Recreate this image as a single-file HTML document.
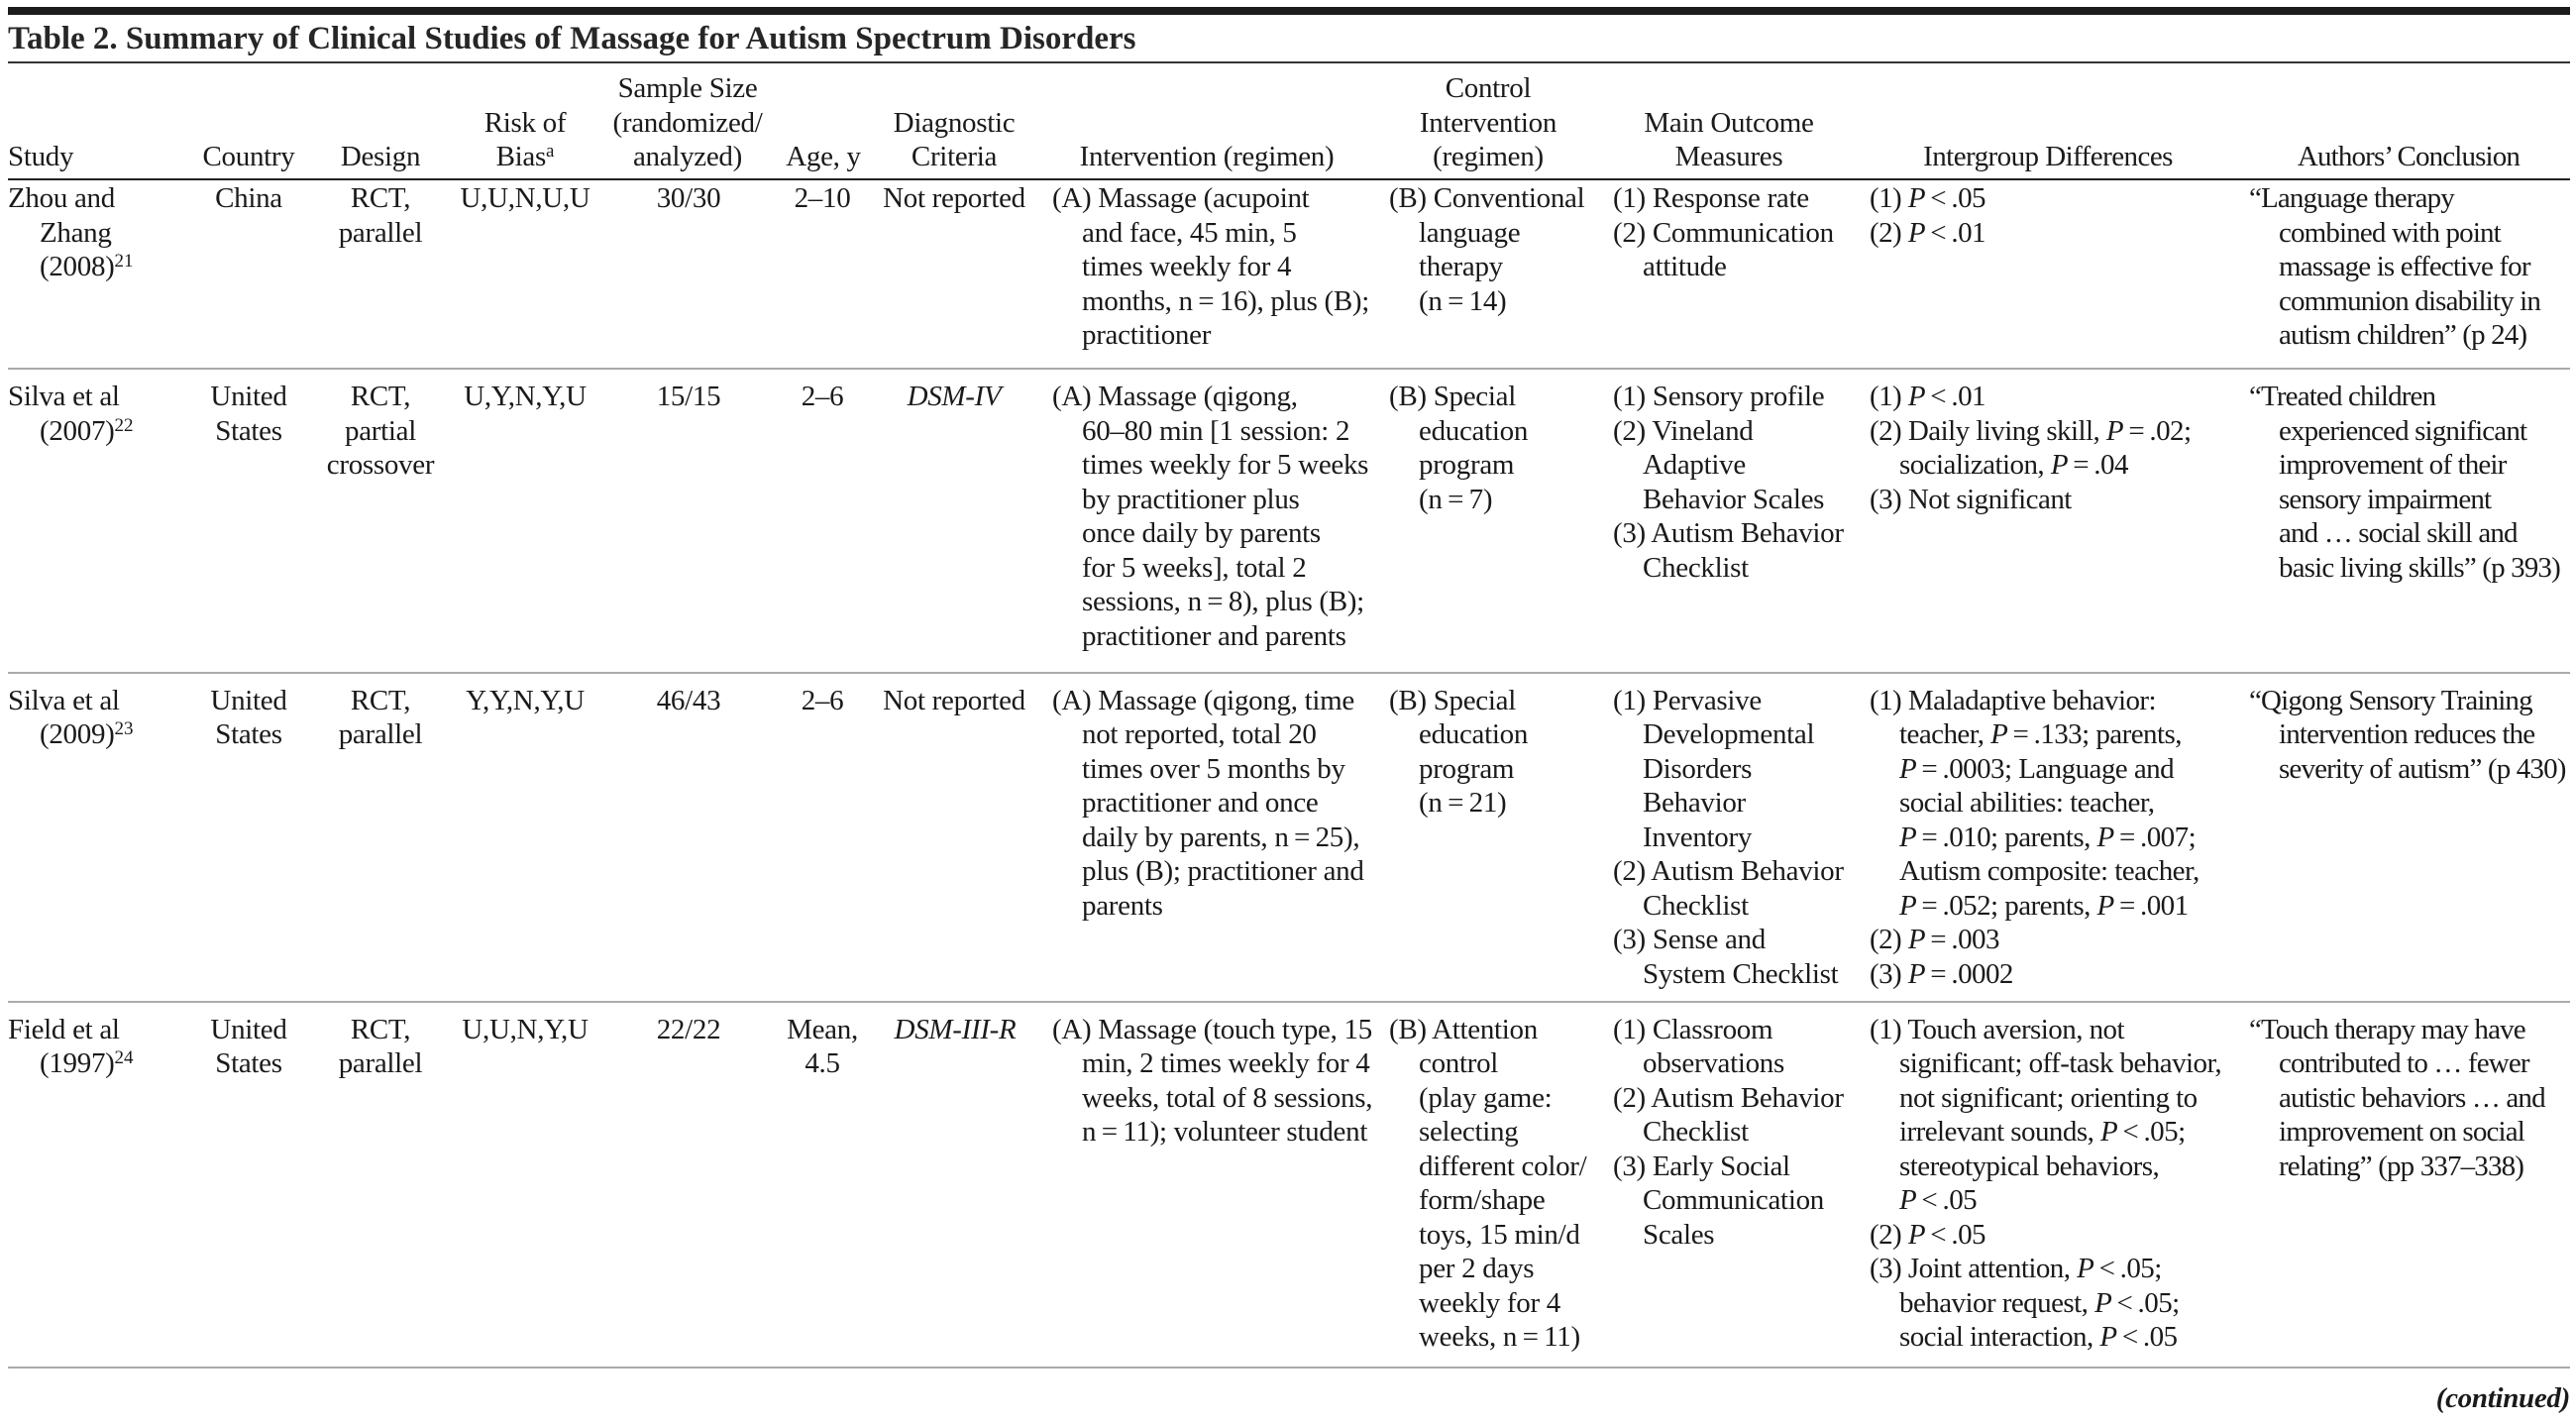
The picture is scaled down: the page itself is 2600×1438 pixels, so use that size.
<!DOCTYPE html>
<html>
<head>
<meta charset="utf-8">
<style>
  html, body { margin:0; padding:0; }
  body {
    width:2600px; height:1438px; position:relative; overflow:hidden;
    background:#ffffff; color:#1a1a1a;
    font-family:"Liberation Serif", "DejaVu Serif", serif;
    font-size:29px; letter-spacing:-0.3px;
  }
  .r { position:absolute; left:8px; width:2586px; }
  .c { position:absolute; line-height:34.5px; white-space:nowrap; }
  .c div { height:34.5px; }
  .m { width:300px; text-align:center; }
  .i1 { padding-left:32px; }
  .i { padding-left:30px; }
  .ig { letter-spacing:-0.55px; }
  .ac { letter-spacing:-0.85px; }
  sup { font-size:19px; line-height:0; vertical-align:9px; letter-spacing:0; }
  .title { position:absolute; left:8px; top:19px; font-size:33px; font-weight:bold; line-height:40px; letter-spacing:0; white-space:nowrap; color:#262626; }
  .cont { position:absolute; right:6px; top:1394px; font-weight:bold; font-style:italic; line-height:34.5px; white-space:nowrap; }
</style>
</head>
<body>

<!-- rules -->
<div class="r" style="top:7px;height:8px;background:#1c1c1c;"></div>
<div class="title">Table 2. Summary of Clinical Studies of Massage for Autism Spectrum Disorders</div>
<div class="r" style="top:62px;height:2px;background:#333;"></div>
<div class="r" style="top:180px;height:2px;background:#222;"></div>
<div class="r" style="top:371px;height:2px;background:#ababab;"></div>
<div class="r" style="top:678px;height:2px;background:#ababab;"></div>
<div class="r" style="top:1010px;height:2px;background:#ababab;"></div>
<div class="r" style="top:1379px;height:2px;background:#ababab;"></div>

<!-- header -->
<div class="c" style="left:8px;top:141px;"><div>Study</div></div>
<div class="c m" style="left:101px;top:141px;"><div>Country</div></div>
<div class="c m" style="left:234px;top:141px;"><div>Design</div></div>
<div class="c m" style="left:380px;top:106.5px;"><div>Risk of</div><div>Bias<sup>a</sup></div></div>
<div class="c m" style="left:544px;top:72px;"><div>Sample Size</div><div>(randomized/</div><div>analyzed)</div></div>
<div class="c m" style="left:681px;top:141px;"><div>Age, y</div></div>
<div class="c m" style="left:813px;top:106.5px;"><div>Diagnostic</div><div>Criteria</div></div>
<div class="c m" style="left:1068px;top:141px;"><div>Intervention (regimen)</div></div>
<div class="c m" style="left:1352px;top:72px;"><div>Control</div><div>Intervention</div><div>(regimen)</div></div>
<div class="c m" style="left:1595px;top:106.5px;"><div>Main Outcome</div><div>Measures</div></div>
<div class="c m ig" style="left:1917px;top:141px;"><div>Intergroup Differences</div></div>
<div class="c m ac" style="left:2281px;top:141px;"><div>Authors’ Conclusion</div></div>

<!-- Row 1 -->
<div class="c" style="left:8px;top:183px;"><div>Zhou and</div><div class="i1">Zhang</div><div class="i1">(2008)<sup>21</sup></div></div>
<div class="c m" style="left:101px;top:183px;"><div>China</div></div>
<div class="c m" style="left:234px;top:183px;"><div>RCT,</div><div>parallel</div></div>
<div class="c m" style="left:380px;top:183px;"><div>U,U,N,U,U</div></div>
<div class="c m" style="left:545px;top:183px;"><div>30/30</div></div>
<div class="c m" style="left:680px;top:183px;"><div>2–10</div></div>
<div class="c m" style="left:813px;top:183px;"><div>Not reported</div></div>
<div class="c" style="left:1062px;top:183px;">
  <div>(A) Massage (acupoint</div>
  <div class="i">and face, 45 min, 5</div>
  <div class="i">times weekly for 4</div>
  <div class="i">months, n&#8201;=&#8201;16), plus (B);</div>
  <div class="i">practitioner</div>
</div>
<div class="c" style="left:1402px;top:183px;">
  <div>(B) Conventional</div>
  <div class="i">language</div>
  <div class="i">therapy</div>
  <div class="i">(n&#8201;=&#8201;14)</div>
</div>
<div class="c" style="left:1628px;top:183px;">
  <div>(1) Response rate</div>
  <div>(2) Communication</div>
  <div class="i">attitude</div>
</div>
<div class="c ig" style="left:1887px;top:183px;">
  <div>(1) <i>P</i>&#8201;&lt;&#8201;.05</div>
  <div>(2) <i>P</i>&#8201;&lt;&#8201;.01</div>
</div>
<div class="c ac" style="left:2270px;top:183px;">
  <div>“Language therapy</div>
  <div class="i">combined with point</div>
  <div class="i">massage is effective for</div>
  <div class="i">communion disability in</div>
  <div class="i">autism children” (p 24)</div>
</div>

<!-- Row 2 -->
<div class="c" style="left:8px;top:383px;"><div>Silva et al</div><div class="i1">(2007)<sup>22</sup></div></div>
<div class="c m" style="left:101px;top:383px;"><div>United</div><div>States</div></div>
<div class="c m" style="left:234px;top:383px;"><div>RCT,</div><div>partial</div><div>crossover</div></div>
<div class="c m" style="left:380px;top:383px;"><div>U,Y,N,Y,U</div></div>
<div class="c m" style="left:545px;top:383px;"><div>15/15</div></div>
<div class="c m" style="left:680px;top:383px;"><div>2–6</div></div>
<div class="c m" style="left:813px;top:383px;"><div><i>DSM-IV</i></div></div>
<div class="c" style="left:1062px;top:383px;">
  <div>(A) Massage (qigong,</div>
  <div class="i">60–80 min [1 session: 2</div>
  <div class="i">times weekly for 5 weeks</div>
  <div class="i">by practitioner plus</div>
  <div class="i">once daily by parents</div>
  <div class="i">for 5 weeks], total 2</div>
  <div class="i">sessions, n&#8201;=&#8201;8), plus (B);</div>
  <div class="i">practitioner and parents</div>
</div>
<div class="c" style="left:1402px;top:383px;">
  <div>(B) Special</div>
  <div class="i">education</div>
  <div class="i">program</div>
  <div class="i">(n&#8201;=&#8201;7)</div>
</div>
<div class="c" style="left:1628px;top:383px;">
  <div>(1) Sensory profile</div>
  <div>(2) Vineland</div>
  <div class="i">Adaptive</div>
  <div class="i">Behavior Scales</div>
  <div>(3) Autism Behavior</div>
  <div class="i">Checklist</div>
</div>
<div class="c ig" style="left:1887px;top:383px;">
  <div>(1) <i>P</i>&#8201;&lt;&#8201;.01</div>
  <div>(2) Daily living skill, <i>P</i>&#8201;=&#8201;.02;</div>
  <div class="i">socialization, <i>P</i>&#8201;=&#8201;.04</div>
  <div>(3) Not significant</div>
</div>
<div class="c ac" style="left:2270px;top:383px;">
  <div>“Treated children</div>
  <div class="i">experienced significant</div>
  <div class="i">improvement of their</div>
  <div class="i">sensory impairment</div>
  <div class="i">and … social skill and</div>
  <div class="i">basic living skills” (p 393)</div>
</div>

<!-- Row 3 -->
<div class="c" style="left:8px;top:689.5px;"><div>Silva et al</div><div class="i1">(2009)<sup>23</sup></div></div>
<div class="c m" style="left:101px;top:689.5px;"><div>United</div><div>States</div></div>
<div class="c m" style="left:234px;top:689.5px;"><div>RCT,</div><div>parallel</div></div>
<div class="c m" style="left:380px;top:689.5px;"><div>Y,Y,N,Y,U</div></div>
<div class="c m" style="left:545px;top:689.5px;"><div>46/43</div></div>
<div class="c m" style="left:680px;top:689.5px;"><div>2–6</div></div>
<div class="c m" style="left:813px;top:689.5px;"><div>Not reported</div></div>
<div class="c" style="left:1062px;top:689.5px;">
  <div>(A) Massage (qigong, time</div>
  <div class="i">not reported, total 20</div>
  <div class="i">times over 5 months by</div>
  <div class="i">practitioner and once</div>
  <div class="i">daily by parents, n&#8201;=&#8201;25),</div>
  <div class="i">plus (B); practitioner and</div>
  <div class="i">parents</div>
</div>
<div class="c" style="left:1402px;top:689.5px;">
  <div>(B) Special</div>
  <div class="i">education</div>
  <div class="i">program</div>
  <div class="i">(n&#8201;=&#8201;21)</div>
</div>
<div class="c" style="left:1628px;top:689.5px;">
  <div>(1) Pervasive</div>
  <div class="i">Developmental</div>
  <div class="i">Disorders</div>
  <div class="i">Behavior</div>
  <div class="i">Inventory</div>
  <div>(2) Autism Behavior</div>
  <div class="i">Checklist</div>
  <div>(3) Sense and</div>
  <div class="i">System Checklist</div>
</div>
<div class="c ig" style="left:1887px;top:689.5px;">
  <div>(1) Maladaptive behavior:</div>
  <div class="i">teacher, <i>P</i>&#8201;=&#8201;.133; parents,</div>
  <div class="i"><i>P</i>&#8201;=&#8201;.0003; Language and</div>
  <div class="i">social abilities: teacher,</div>
  <div class="i"><i>P</i>&#8201;=&#8201;.010; parents, <i>P</i>&#8201;=&#8201;.007;</div>
  <div class="i">Autism composite: teacher,</div>
  <div class="i"><i>P</i>&#8201;=&#8201;.052; parents, <i>P</i>&#8201;=&#8201;.001</div>
  <div>(2) <i>P</i>&#8201;=&#8201;.003</div>
  <div>(3) <i>P</i>&#8201;=&#8201;.0002</div>
</div>
<div class="c ac" style="left:2270px;top:689.5px;">
  <div>“Qigong Sensory Training</div>
  <div class="i">intervention reduces the</div>
  <div class="i">severity of autism” (p 430)</div>
</div>

<!-- Row 4 -->
<div class="c" style="left:8px;top:1021.5px;"><div>Field et al</div><div class="i1">(1997)<sup>24</sup></div></div>
<div class="c m" style="left:101px;top:1021.5px;"><div>United</div><div>States</div></div>
<div class="c m" style="left:234px;top:1021.5px;"><div>RCT,</div><div>parallel</div></div>
<div class="c m" style="left:380px;top:1021.5px;"><div>U,U,N,Y,U</div></div>
<div class="c m" style="left:545px;top:1021.5px;"><div>22/22</div></div>
<div class="c m" style="left:680px;top:1021.5px;"><div>Mean,</div><div>4.5</div></div>
<div class="c m" style="left:814px;top:1021.5px;"><div><i>DSM-III-R</i></div></div>
<div class="c" style="left:1062px;top:1021.5px;">
  <div>(A) Massage (touch type, 15</div>
  <div class="i">min, 2 times weekly for 4</div>
  <div class="i">weeks, total of 8 sessions,</div>
  <div class="i">n&#8201;=&#8201;11); volunteer student</div>
</div>
<div class="c" style="left:1402px;top:1021.5px;">
  <div>(B) Attention</div>
  <div class="i">control</div>
  <div class="i">(play game:</div>
  <div class="i">selecting</div>
  <div class="i">different color/</div>
  <div class="i">form/shape</div>
  <div class="i">toys, 15 min/d</div>
  <div class="i">per 2 days</div>
  <div class="i">weekly for 4</div>
  <div class="i">weeks, n&#8201;=&#8201;11)</div>
</div>
<div class="c" style="left:1628px;top:1021.5px;">
  <div>(1) Classroom</div>
  <div class="i">observations</div>
  <div>(2) Autism Behavior</div>
  <div class="i">Checklist</div>
  <div>(3) Early Social</div>
  <div class="i">Communication</div>
  <div class="i">Scales</div>
</div>
<div class="c ig" style="left:1887px;top:1021.5px;">
  <div>(1) Touch aversion, not</div>
  <div class="i">significant; off-task behavior,</div>
  <div class="i">not significant; orienting to</div>
  <div class="i">irrelevant sounds, <i>P</i>&#8201;&lt;&#8201;.05;</div>
  <div class="i">stereotypical behaviors,</div>
  <div class="i"><i>P</i>&#8201;&lt;&#8201;.05</div>
  <div>(2) <i>P</i>&#8201;&lt;&#8201;.05</div>
  <div>(3) Joint attention, <i>P</i>&#8201;&lt;&#8201;.05;</div>
  <div class="i">behavior request, <i>P</i>&#8201;&lt;&#8201;.05;</div>
  <div class="i">social interaction, <i>P</i>&#8201;&lt;&#8201;.05</div>
</div>
<div class="c ac" style="left:2270px;top:1021.5px;">
  <div>“Touch therapy may have</div>
  <div class="i">contributed to … fewer</div>
  <div class="i">autistic behaviors … and</div>
  <div class="i">improvement on social</div>
  <div class="i">relating” (pp 337–338)</div>
</div>

<div class="cont">(continued)</div>

</body>
</html>
